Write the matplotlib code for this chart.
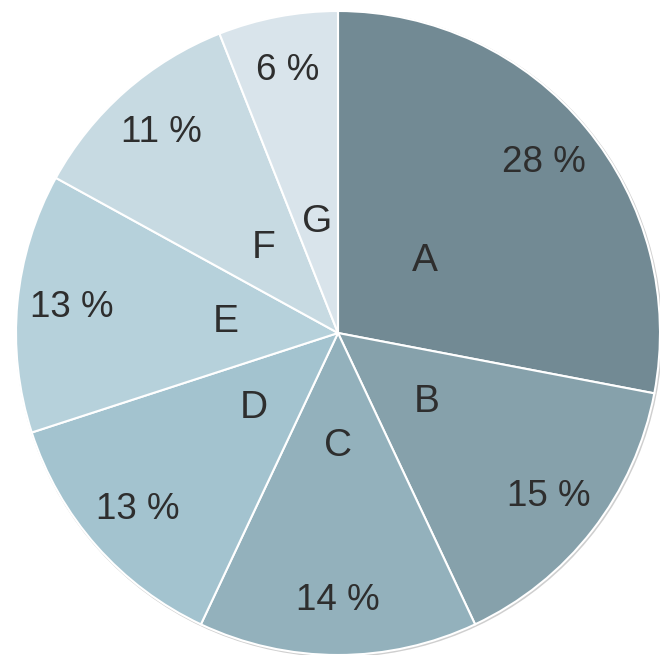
import matplotlib
matplotlib.use("Agg")
import matplotlib.pyplot as plt
from matplotlib.patches import Circle

# data
labels = ["A", "B", "C", "D", "E", "F", "G"]
values = [28, 15, 14, 13, 13, 11, 6]
colors = ["#728a94", "#86a1ab", "#93b1bc", "#a3c3cf", "#b6d1db", "#c7dae2", "#d9e4eb"]

plt.rcParams["font.family"] = ["Liberation Sans", "DejaVu Sans"]

W, H = 663, 656
cx, cy, R = 338, 333, 322
fig = plt.figure(figsize=(W / 100, H / 100), dpi=100, facecolor="white")
ax = fig.add_axes([(cx - R) / W, (H - cy - R) / H, 2 * R / W, 2 * R / H])

# soft rim behind the pie
ax.add_patch(Circle((0.003, -0.003), 1.004, facecolor="#cfcfcf", edgecolor="none", zorder=0))

wedges, texts, autotexts = ax.pie(
    values, labels=labels, colors=colors, startangle=90, counterclock=False,
    labeldistance=0.35, pctdistance=0.83,
    autopct=lambda p: f"{p:.0f} %",
    wedgeprops=dict(edgecolor="white", linewidth=1.5),
    textprops=dict(color="#2e2e2e"),
)
for t in texts:
    t.set_ha("center")
    t.set_va("center")
    t.set_fontsize(28)
for t in autotexts:
    t.set_fontsize(26.5)

ax.set_xlim(-1, 1)
ax.set_ylim(-1, 1)
ax.set_aspect("equal")
ax.axis("off")

fig.savefig("out.png", dpi=100, facecolor="white")
